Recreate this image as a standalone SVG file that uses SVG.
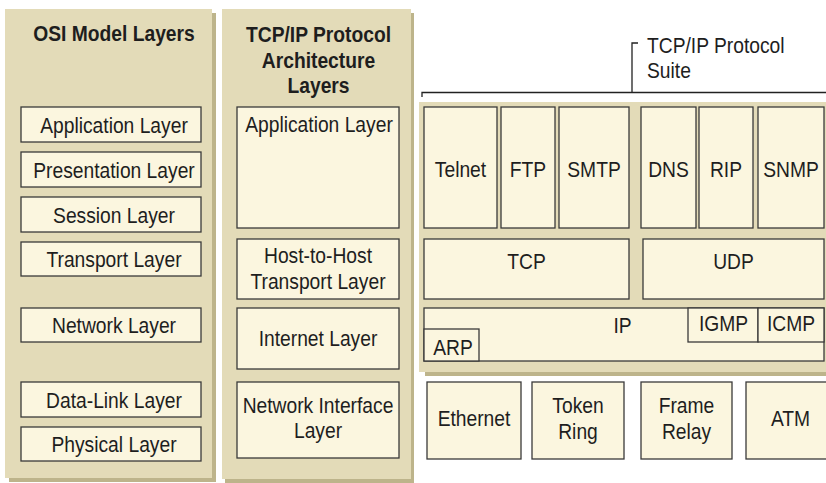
<svg xmlns="http://www.w3.org/2000/svg" width="826" height="483" viewBox="0 0 826 483">
  <style>
    .panel { fill: #e3dbb8; }
    .shade { fill: #bdb48b; }
    .box { fill: #fbf6df; stroke: #3a3a3a; stroke-width: 1.3; }
    .t { font-family: "Liberation Sans", Arial, sans-serif; font-size: 22px; fill: #1e1e1e; text-anchor: middle; }
    .h { font-weight: bold; }
    .l { text-anchor: start; }
    .br { fill: none; stroke: #222; stroke-width: 1.3; }
  </style>
  <rect width="826" height="483" fill="#ffffff"/>

  <!-- OSI column -->
  <g id="osi-panel">
    <rect class="shade" x="9" y="13" width="207" height="469"/>
    <rect class="panel" x="5" y="9" width="207" height="469"/>
    <text class="t h" transform="translate(114 40.5) scale(0.875 1)">OSI Model Layers</text>
  </g>
  <g id="osi-application"><rect class="box" x="21" y="107" width="180" height="35"/><text class="t" transform="translate(114 133) scale(0.875 1)">Application Layer</text></g>
  <g id="osi-presentation"><rect class="box" x="21" y="152" width="180" height="35"/><text class="t" transform="translate(114 177.5) scale(0.875 1)">Presentation Layer</text></g>
  <g id="osi-session"><rect class="box" x="21" y="197" width="180" height="35"/><text class="t" transform="translate(114 222.5) scale(0.875 1)">Session Layer</text></g>
  <g id="osi-transport"><rect class="box" x="21" y="242" width="180" height="34"/><text class="t" transform="translate(114 267) scale(0.875 1)">Transport Layer</text></g>
  <g id="osi-network"><rect class="box" x="21" y="308" width="180" height="34"/><text class="t" transform="translate(114 333) scale(0.875 1)">Network Layer</text></g>
  <g id="osi-datalink"><rect class="box" x="21" y="382" width="180" height="35"/><text class="t" transform="translate(114 407.5) scale(0.875 1)">Data-Link Layer</text></g>
  <g id="osi-physical"><rect class="box" x="21" y="427" width="180" height="34"/><text class="t" transform="translate(114 452) scale(0.875 1)">Physical Layer</text></g>

  <!-- TCP/IP architecture column -->
  <g id="arch-panel">
    <rect class="shade" x="225" y="13" width="189" height="470"/>
    <rect class="panel" x="222" y="9" width="189" height="470"/>
    <text class="t h" transform="translate(318.5 42) scale(0.875 1)">TCP/IP Protocol</text>
    <text class="t h" transform="translate(318.5 68) scale(0.875 1)">Architecture</text>
    <text class="t h" transform="translate(318.5 93) scale(0.875 1)">Layers</text>
  </g>
  <g id="arch-application"><rect class="box" x="237" y="107" width="162" height="121"/><text class="t" transform="translate(319 132) scale(0.875 1)">Application Layer</text></g>
  <g id="arch-transport"><rect class="box" x="237" y="239" width="162" height="60"/><text class="t" transform="translate(318 263) scale(0.875 1)">Host-to-Host</text><text class="t" transform="translate(318 289) scale(0.875 1)">Transport Layer</text></g>
  <g id="arch-internet"><rect class="box" x="237" y="308" width="162" height="61"/><text class="t" transform="translate(318 346) scale(0.875 1)">Internet Layer</text></g>
  <g id="arch-netif"><rect class="box" x="237" y="382" width="162" height="76"/><text class="t" transform="translate(318 413) scale(0.875 1)">Network Interface</text><text class="t" transform="translate(318 438) scale(0.875 1)">Layer</text></g>

  <!-- Protocol suite label and bracket -->
  <g id="suite-bracket">
    <path class="br" d="M422 97 V92.5 H826 M632 92.5 V43 H638"/>
    <text class="t l" transform="translate(647 53) scale(0.875 1)">TCP/IP Protocol</text>
    <text class="t l" transform="translate(647 78) scale(0.875 1)">Suite</text>
  </g>

  <!-- Protocol suite -->
  <g id="suite-panel">
    <rect class="shade" x="425" y="106" width="420" height="270"/>
    <rect class="panel" x="419" y="102" width="420" height="270"/>
  </g>
  <g id="telnet"><rect class="box" x="424" y="107" width="73" height="121"/><text class="t" transform="translate(460.5 177) scale(0.875 1)">Telnet</text></g>
  <g id="ftp"><rect class="box" x="501" y="107" width="54" height="121"/><text class="t" transform="translate(528 177) scale(0.875 1)">FTP</text></g>
  <g id="smtp"><rect class="box" x="559" y="107" width="70" height="121"/><text class="t" transform="translate(594 177) scale(0.875 1)">SMTP</text></g>
  <g id="dns"><rect class="box" x="641" y="107" width="55" height="121"/><text class="t" transform="translate(668.5 177) scale(0.875 1)">DNS</text></g>
  <g id="rip"><rect class="box" x="699" y="107" width="54" height="121"/><text class="t" transform="translate(726 177) scale(0.875 1)">RIP</text></g>
  <g id="snmp"><rect class="box" x="758" y="107" width="66" height="121"/><text class="t" transform="translate(791 177) scale(0.875 1)">SNMP</text></g>
  <g id="tcp"><rect class="box" x="424" y="239" width="205" height="60"/><text class="t" transform="translate(526.5 269) scale(0.875 1)">TCP</text></g>
  <g id="udp"><rect class="box" x="643" y="239" width="181" height="60"/><text class="t" transform="translate(733.5 269) scale(0.875 1)">UDP</text></g>
  <g id="ip"><rect class="box" x="424" y="308" width="400" height="53"/><text class="t" transform="translate(622.5 333) scale(0.875 1)">IP</text></g>
  <g id="igmp"><rect class="box" x="688" y="308" width="70" height="34"/><text class="t" transform="translate(723.5 331) scale(0.875 1)">IGMP</text></g>
  <g id="icmp"><rect class="box" x="758" y="308" width="66" height="34"/><text class="t" transform="translate(791 331) scale(0.875 1)">ICMP</text></g>
  <g id="arp"><rect class="box" x="424" y="329" width="55" height="32"/><text class="t" transform="translate(453 355) scale(0.875 1)">ARP</text></g>

  <!-- Link technologies -->
  <g id="ethernet"><rect class="box" x="427" y="382" width="94" height="77"/><text class="t" transform="translate(474 426) scale(0.875 1)">Ethernet</text></g>
  <g id="token-ring"><rect class="box" x="532" y="382" width="92" height="77"/><text class="t" transform="translate(578 413) scale(0.875 1)">Token</text><text class="t" transform="translate(578 439) scale(0.875 1)">Ring</text></g>
  <g id="frame-relay"><rect class="box" x="641" y="382" width="91" height="77"/><text class="t" transform="translate(686.5 413) scale(0.875 1)">Frame</text><text class="t" transform="translate(686.5 439) scale(0.875 1)">Relay</text></g>
  <g id="atm"><rect class="box" x="746" y="382" width="90" height="77"/><text class="t" transform="translate(790.5 426) scale(0.875 1)">ATM</text></g>
</svg>
